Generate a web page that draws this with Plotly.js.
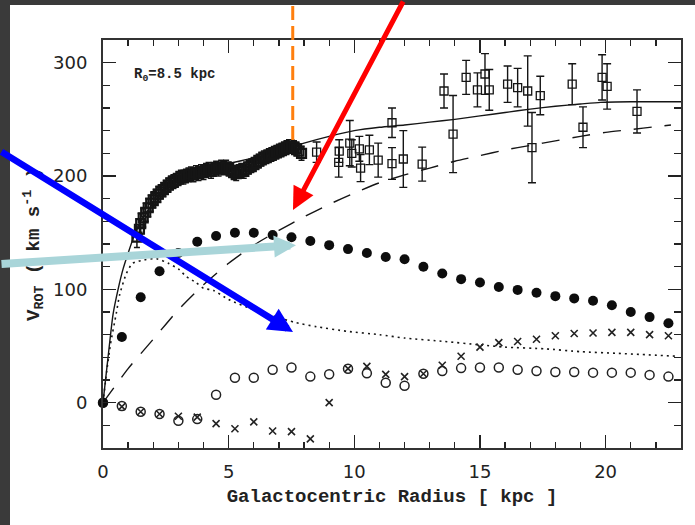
<!DOCTYPE html>
<html><head><meta charset="utf-8">
<script src="https://cdn.plot.ly/plotly-3.0.1.min.js"></script>
<style>
html,body{margin:0;padding:0;background:#3a3a3a;width:695px;height:525px;overflow:hidden;}
#panel{position:absolute;left:10px;top:5px;width:685px;height:520px;background:#fff;}
#chart{position:absolute;left:0;top:0;width:695px;height:525px;}
</style></head><body>
<div id="panel"></div><div id="chart"></div>
<script>
// ---- model curves ----
const totalR = [0,0.2,0.4,0.6,0.8,1.0,1.25,1.5,2,2.5,3,3.5,4,5,6,7,8,9,10,11,12,13,14,15,16,17,18,19,19.8,21,23];
const totalV = [0,40,78,100,118,132,148,160,176,188,196,201,205,211,216,222,229,235,240,243,245,247.5,250,253,256,259,261.5,263.5,265,265.5,265.5];

const haloR = [0,1,2,3,4,5,6,7,8,9,10,11,12,13,14,15,16,17,18,19,20,21,22,22.6];
const haloV = [0,30,56,82,104,123,139,152,164,175,185,194,201,207,213,218,223,227,231,235,238.5,241,243.5,245];

const diskR = [0,0.15,0.3,0.53,0.66,0.93,1.18,1.65,2.13,2.6,3.0,3.33,3.7,4.0,4.4,5.0,6.0,7.0,7.6,8.5,9.7,11,12,13.6,15,16,17.6,19,20.5,22.8];
const diskV = [0,28,52,79,95,114,123,126,127,123,118,111,106,101,99,91,82,75,71,67,63,60,57,54,51,49,47.5,45,43.5,41];

// ---- ring decomposition points ----
const ringR = [0,0.75,1.5,2.25,3.0,3.75,4.5,5.25,6.0,6.75,7.5,8.25,9.0,9.75,10.5,11.25,12.0,12.75,13.5,14.25,15.0,15.75,16.5,17.25,18.0,18.75,19.5,20.25,21.0,21.75,22.5];
const filledV = [0,58,93,116,132,142,147,150,150,148,146,142.6,139,135.5,132,128.5,126.5,120,114,109,106,102,99.5,97,94,92,90,86,80,75.5,70];
const openV = [0,-3,-8,-10,-16,-14.5,7,22,22,29,31,23,25,30,26,17.6,15,25.5,28,30.5,31,31,29,28,27,27,26.5,26.5,26.5,24.5,23];
const crossV = [0,-3.5,-8,-10,-12,-12.7,-18.5,-23,-17,-25,-25.5,-32,0,30,32,25,23,25.5,33,41,49,53,54,56,59,61,61.5,62,62,60,59];

// ---- inner terminal-velocity data ----
const innerR = [1.35,1.45,1.5,1.6,1.7,1.8,1.9,2.0,2.1,2.2,2.3,2.4,2.5,2.6,2.7,2.8,2.9,3.0,3.1,3.2,3.3,3.4,3.5,3.6,3.7,3.8,3.9,4.0,4.1,4.2,4.3,4.4,4.5,4.6,4.7,4.8,4.9,5.0,5.1,5.2,5.3,5.4,5.5,5.6,5.7,5.8,5.9,6.0,6.1,6.2,6.3,6.4,6.5,6.6,6.7,6.8,6.9,7.0,7.1,7.2,7.3,7.4,7.5,7.6,7.7,7.8,7.9];
const innerV = [146,153,158,163,168,172,176,179,181,184,186,188,190,192,194,195,196,198,199,199,200,201,202,201,203,202,204,203,205,206,204,206,207,206,208,207,208,206,205,203,202,204,205,204,206,208,209,210,212,213,215,216,217,218,219,220,221,222,223,224,225,226,226,225,224,222,220];
const innerErr = [9,9,9,8,8,8,7,7,7,7,6,6,6,6,6,6,6,6,6,6,6,6,6,6,6,6,6,6,6,6,6,6,6,6,6,6,6,6,6,6,6,6,6,6,6,6,6,6,6,6,6,6,6,6,6,6,6,6,6,6,6,6,6,6,6,6,6];

// ---- outer HI data ----
const outerR = [8.5,9.38,9.4,9.82,9.9,10.2,10.25,10.6,10.95,11.5,11.5,11.95,12.7,13.57,13.93,14.45,14.9,15.2,15.37,16.1,16.5,16.9,17.07,17.4,18.67,19.1,19.86,20.06,21.25];
const outerV = [221,212,222,229,220,224,207,223,214,247,211,215,210.5,275,237,287,276,290,276,281,278,275,225,271,281,243,287,279,257];
const outerErr = [9,13,10,20,12,11,12,13,15,13,14,25,15,15,34,15,15,18,18,16,17,31,31,17,18,18,20,20,19];

// ---- labels / annotation anchors ----
const xTitle = 'Galactocentric Radius [ kpc ]';
const yTitle = 'V<sub>ROT</sub> ( km s<sup>-1</sup> )';
const r0Label = 'R<sub>0</sub>=8.5 kpc';
const sunR = 7.55;
const xRange = [0,23];
const yRange = [-40,320];

const ink = '#151515';
const titleFont = {family:'Liberation Mono', size:19, color:'#222', weight:'bold'};
const traces = [
  {x: totalR, y: totalV, mode:'lines', line:{color:ink, width:1.4, shape:'spline', smoothing:0.6}, hoverinfo:'skip'},
  {x: haloR, y: haloV, mode:'lines', line:{color:ink, width:1.4, dash:'18px,13px', shape:'spline', smoothing:0.6}, hoverinfo:'skip'},
  {x: diskR, y: diskV, mode:'lines', line:{color:ink, width:1.6, dash:'2px,4px', shape:'spline', smoothing:0.6}, hoverinfo:'skip'},
  {x: innerR, y: innerV, mode:'markers', cliponaxis:false,
   marker:{symbol:'square-open', size:9, color:ink, line:{width:2.2, color:ink}},
   error_y:{type:'data', array: innerErr, visible:true, color:ink, thickness:1.5, width:3}},
  {x: outerR, y: outerV, mode:'markers', cliponaxis:false,
   marker:{symbol:'square-open', size:8, color:ink, line:{width:1.3, color:ink}},
   error_y:{type:'data', array: outerErr, visible:true, color:ink, thickness:1.4, width:4}},
  {x: ringR, y: openV, mode:'markers', cliponaxis:false,
   marker:{symbol:'circle-open', size:9, color:'#222', line:{width:1.5, color:'#222'}}},
  {x: ringR, y: crossV, mode:'markers', cliponaxis:false,
   marker:{symbol:'x-thin-open', size:7, color:'#222', line:{width:1.6, color:'#222'}}},
  {x: ringR, y: filledV, mode:'markers', cliponaxis:false,
   marker:{symbol:'circle', size:10, color:'#0d0d0d'}}
];

const axisCommon = {
  showgrid:false, zeroline:false, showline:true, linewidth:2, linecolor:'#333',
  mirror:'ticks', ticks:'inside', ticklen:13, tickwidth:1.5, tickcolor:'#222',
  tickfont:{family:'DejaVu Sans', size:18, color:'#222'}
};

const layout = {
  width:695, height:525,
  paper_bgcolor:'rgba(0,0,0,0)', plot_bgcolor:'#fff',
  margin:{l:103, r:14, t:40, b:77},
  showlegend:false,
  xaxis: Object.assign({}, axisCommon, {
    range:xRange, tick0:0, dtick:5, ticklabelstandoff:6,
    minor:{dtick:1, ticks:'inside', ticklen:6, tickwidth:1.3, tickcolor:'#222'},
    title:{text:xTitle, font:titleFont, standoff:8}
  }),
  yaxis: Object.assign({}, axisCommon, {
    range:yRange, tick0:0, dtick:100, ticklabelstandoff:10,
    minor:{dtick:20, ticks:'inside', ticklen:7, tickwidth:1.3, tickcolor:'#222'},
    title:{text:yTitle, font:titleFont, standoff:8}
  }),
  shapes:[
    {type:'line', xref:'paper', yref:'paper', x0:sunR/xRange[1], x1:sunR/xRange[1], y0:0.755, y1:1.1,
     line:{color:'#ff7f0e', width:3, dash:'14px,6px'}}
  ],
  annotations:[
    {xref:'paper', yref:'paper', x:0.05, y:0.914, xanchor:'left', yanchor:'middle', showarrow:false,
     text:r0Label, font:{family:'Liberation Mono', size:14, color:'#222', weight:'bold'}},
    {xref:'x', yref:'y', x:7.56, y:170, text:'', showarrow:true, arrowhead:2, arrowsize:0.9, arrowwidth:5,
     arrowcolor:'#ff0000', ax:111, ay:-215, standoff:0},
    {xref:'x', yref:'y', x:7.56, y:62.4, text:'', showarrow:true, arrowhead:2, arrowsize:0.75, arrowwidth:6.5,
     arrowcolor:'#0000ff', ax:-300, ay:-181, standoff:0},
    {xref:'x', yref:'y', x:7.68, y:139, text:'', showarrow:true, arrowhead:2, arrowsize:0.55, arrowwidth:8,
     arrowcolor:'#a9d5d9', ax:-300, ay:19, standoff:0}
  ]
};

Plotly.newPlot('chart', traces, layout, {staticPlot:true, displayModeBar:false});
</script></body></html>
